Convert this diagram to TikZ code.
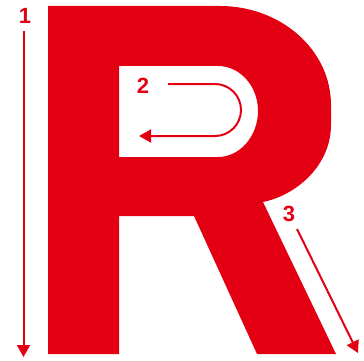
\documentclass[tikz,border=0pt]{standalone}
\usepackage{fontspec}
\setmainfont{Liberation Sans}
\usetikzlibrary{arrows.meta}
\definecolor{rred}{RGB}{227,0,18}
\tikzset{
  lbl/.style={text=rred, font=\fontsize{22}{22}\selectfont\bfseries, inner sep=0pt, anchor=center},
  arr/.style={draw=rred, line width=2pt, -{Triangle[length=12pt,width=13pt]}}
}
\begin{document}
\begin{tikzpicture}[x=1pt,y=-1pt]
\useasboundingbox (0,0) rectangle (364,361);
% letter R
\fill[rred, even odd rule]
  (48,6) -- (220,6) .. controls (281,6) and (331,50) .. (331,105)
  -- (331,125) .. controls (331,165) and (297,195) .. (263,202)
  -- (336,354) -- (257,354) -- (194,216) -- (119,216) -- (119,354) -- (48,354) -- cycle
  (119,66) -- (218,66) .. controls (240,66) and (258,86) .. (258,111)
  .. controls (258,136) and (240,157) .. (218,157) -- (119,157) -- cycle;
% labels
\node[lbl] (n1) at (25,16) {1};
\node[lbl] (n2) at (143,86) {2};
\node[lbl] (n3) at (289,214) {3};
% arrow ends
\coordinate (a1s) at (23.5,31);
\coordinate (a1e) at (23.5,357);
\coordinate (a2s) at (168,84);
\coordinate (a2e) at (139,136);
\coordinate (a3s) at (297,229);
\coordinate (a3e) at (358,353);
\draw[arr] (a1s) -- (a1e);
\draw[arr] (a2s) -- (215,84) arc[start angle=-90, end angle=90, radius=26] -- (a2e);
\draw[arr] (a3s) -- (a3e);
\end{tikzpicture}
\end{document}
